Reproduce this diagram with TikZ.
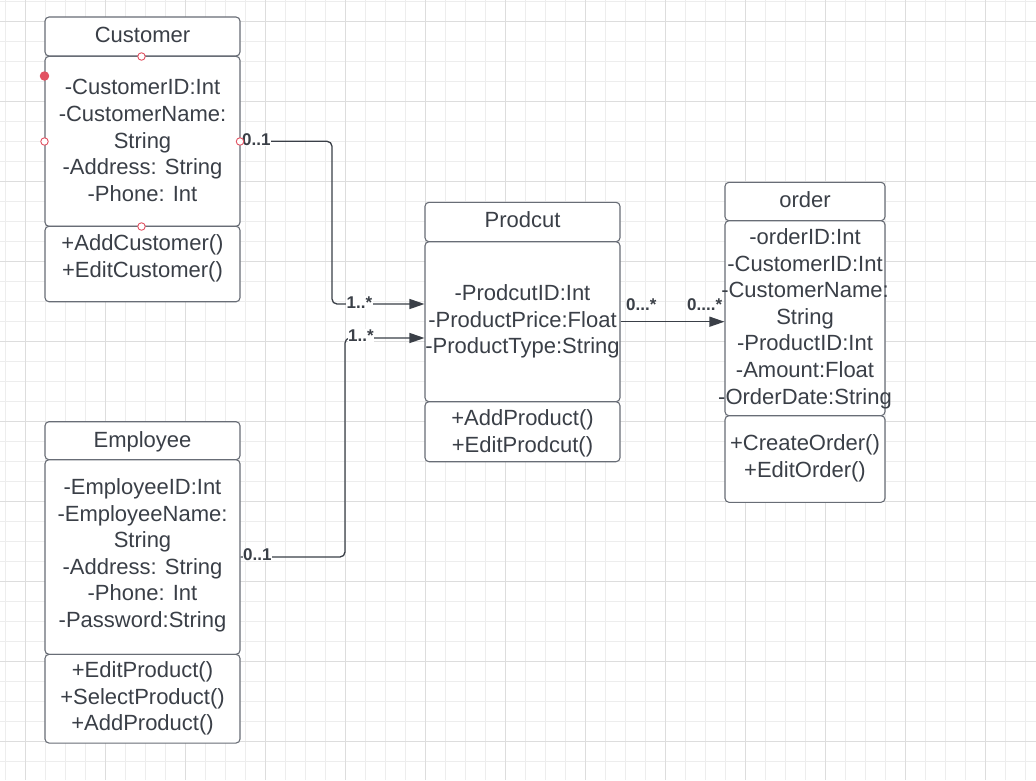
\documentclass[tikz,border=0pt]{standalone}
\usepackage{fontspec}
\setmainfont{Liberation Sans}
\newfontfamily\umlfont{Liberation Sans}
\usetikzlibrary{arrows.meta}

\definecolor{boxline}{RGB}{104,109,118}
\definecolor{inktext}{RGB}{58,63,71}
\definecolor{wireink}{RGB}{58,63,71}
\definecolor{gridminor}{RGB}{237,237,237}
\definecolor{gridmajor}{RGB}{221,221,221}
\definecolor{handle}{RGB}{226,82,98}

\begin{document}
\begin{tikzpicture}[x=1pt, y=-1pt,
    compart/.style={draw=boxline, line width=1.1pt, fill=white, rounded corners=4pt, minimum width=195pt, inner sep=0pt},
    members/.style={anchor=north, inner sep=0pt, align=center, text=inktext, font=\umlfont\fontsize{22}{26.6}\selectfont, execute at begin node=\strut},
    mult/.style={anchor=base west, inner sep=0.5pt, fill=white, text=inktext, font=\umlfont\bfseries\fontsize{17}{19}\selectfont},
    wire/.style={draw=wireink, line width=1.3pt, rounded corners=5pt},
    headed/.style={-{Triangle[length=15pt, width=10pt]}},
    grip/.style={draw=handle, fill=white, circle, line width=0.9pt, inner sep=0pt, minimum size=7.5pt}]
      \useasboundingbox (0,0) rectangle (1036,780);
      \fill[white] (0,0) rectangle (1036,780);
      % grid
      \foreach \gx in {5,25,...,1025} \draw[gridminor, line width=0.9pt] (\gx,0) -- (\gx,780);
      \foreach \gy in {1.7,21.7,...,780} \draw[gridminor, line width=0.9pt] (0,\gy) -- (1036,\gy);
      \foreach \gx in {25,105,...,1025} \draw[gridmajor, line width=0.9pt] (\gx,0) -- (\gx,780);
      \foreach \gy in {21.7,101.7,...,780} \draw[gridmajor, line width=0.9pt] (0,\gy) -- (1036,\gy);
      %
      % Customer
      \node[compart, minimum height=39pt] (cust-t) at (142.5,36.5) {};
      \node[compart, minimum height=170pt] (cust-a) at (142.5,141.3) {};
      \node[compart, minimum height=75.5pt] (cust-m) at (142.5,264) {};
      \node[members] (cust-tt) at (142.5,23.3) {Customer};
      \node[members] (cust-at) at (142.5,79.3) {-CustomerID:Int\\-CustomerName:\\String\\-Address: String\\-Phone: Int};
      \node[members] (cust-mt) at (142.5,234.3) {+AddCustomer()\\+EditCustomer()};
      %
      % Employee
      \node[compart, minimum height=38pt] (emp-t) at (142.5,440.7) {};
      \node[compart, minimum height=194.6pt] (emp-a) at (142.5,557) {};
      \node[compart, minimum height=88.7pt] (emp-m) at (142.5,698.7) {};
      \node[members] (emp-tt) at (142.5,428.3) {Employee};
      \node[members] (emp-at) at (142.5,478.3) {-EmployeeID:Int\\-EmployeeName:\\String\\-Address: String\\-Phone: Int\\-Password:String};
      \node[members] (emp-mt) at (142.5,661.3) {+EditProduct()\\+SelectProduct()\\+AddProduct()};
      %
      % Prodcut
      \node[compart, minimum height=39.4pt] (prod-t) at (522.5,222) {};
      \node[compart, minimum height=160pt] (prod-a) at (522.5,321.7) {};
      \node[compart, minimum height=60pt] (prod-m) at (522.5,431.7) {};
      \node[members] (prod-tt) at (522.5,208.3) {Prodcut};
      \node[members] (prod-at) at (522.5,284.3) {-ProdcutID:Int\\-ProductPrice:Float\\-ProductType:String};
      \node[members] (prod-mt) at (522.5,409.3) {+AddProduct()\\+EditProdcut()};
      %
      % order
      \node[compart, minimum width=160pt, minimum height=38.4pt] (ord-t) at (805,201.5) {};
      \node[compart, minimum width=160pt, minimum height=195pt] (ord-a) at (805,318.2) {};
      \node[compart, minimum width=160pt, minimum height=86.6pt] (ord-m) at (805,459) {};
      \node[members] (ord-tt) at (805,188.3) {order};
      \node[members] (ord-at) at (805,228.3) {-orderID:Int\\-CustomerID:Int\\-CustomerName:\\String\\-ProductID:Int\\-Amount:Float\\-OrderDate:String};
      \node[members] (ord-mt) at (805,434.3) {+CreateOrder()\\+EditOrder()};
      %
      % associations
      \coordinate (bend1) at (332,304);
      \coordinate (bend2) at (345,338);
      \draw[wire, headed] (cust-a.east) -| (bend1) -- (bend1 -| prod-a.west);
      \draw[wire, headed] (emp-a.east) -| (bend2) -- (bend2 -| prod-a.west);
      \draw[wire, headed] (prod-a.east) -- (prod-a.east -| ord-a.west);
      %
      \node[mult] (m-cust) at (241.5,145) {0..1};
      \node[mult] (m-prod1) at (346,308) {1..*};
      \node[mult] (m-prod2) at (347.5,341.5) {1..*};
      \node[mult] (m-emp) at (242.5,560.5) {0..1};
      \node[mult, fill=none] (m-prod3) at (625.5,310.7) {0...*};
      \node[mult, fill=none] (m-ord) at (686.5,310.7) {0....*};
      %
      % selection handles
      \node[grip] (grip-n) at (141.5,56.5) {};
      \node[grip] (grip-w) at (44.5,141.5) {};
      \node[grip] (grip-e) at (240,141.5) {};
      \node[grip] (grip-s) at (141.5,226.5) {};
      \node[grip, fill=handle, minimum size=8.5pt] (grip-sel) at (44.5,76) {};
    \end{tikzpicture}
\end{document}
